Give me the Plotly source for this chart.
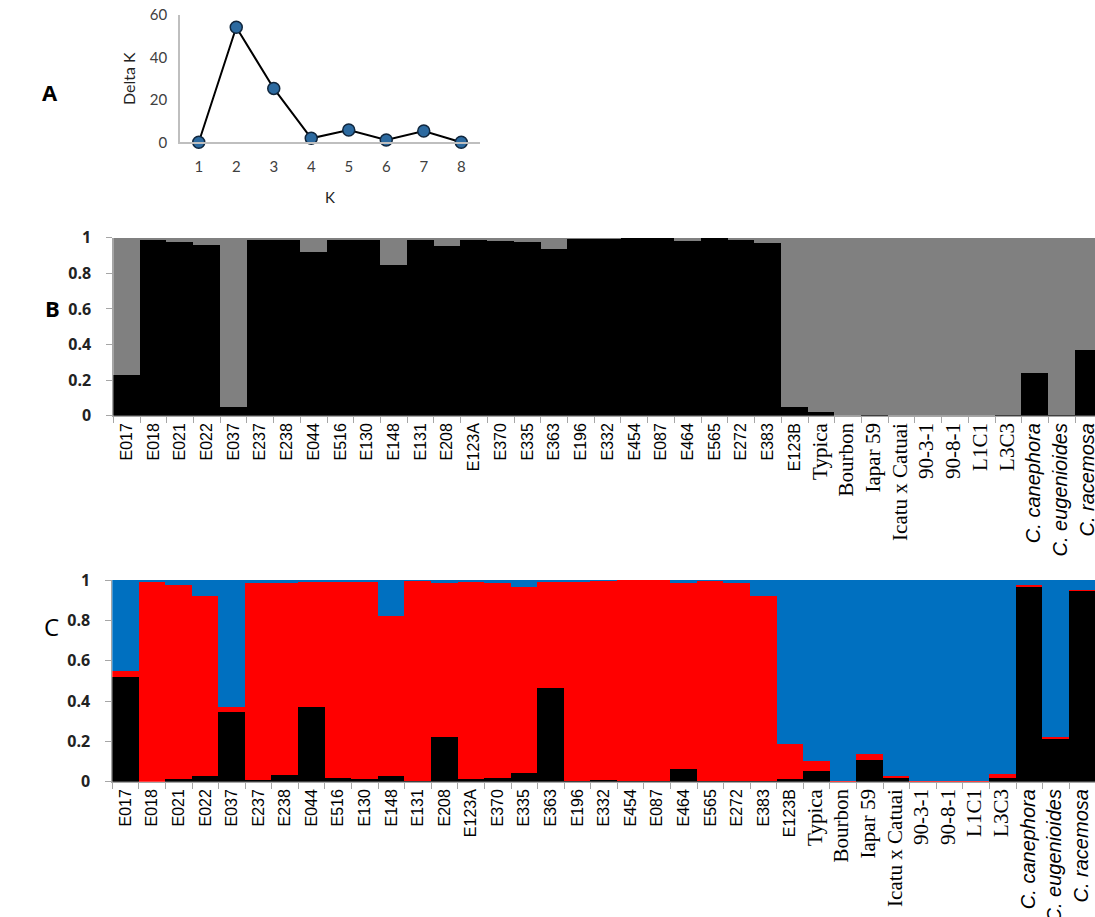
import plotly.graph_objects as go

# ---------------- data ----------------
k_values = [1, 2, 3, 4, 5, 6, 7, 8]
delta_k = [0.0, 54.2, 25.4, 1.9, 5.8, 1.1, 5.3, 0.0]

samples = ["E017", "E018", "E021", "E022", "E037", "E237", "E238", "E044", "E516", "E130",
           "E148", "E131", "E208", "E123A", "E370", "E335", "E363", "E196", "E332", "E454",
           "E087", "E464", "E565", "E272", "E383", "E123B", "Typica", "Bourbon", "Iapar 59",
           "Icatu x Catuai", "90-3-1", "90-8-1", "L1C1", "L3C3", "C. canephora",
           "C. eugenioides", "C. racemosa"]

# K = 2
b_black = [0.23, 0.99, 0.98, 0.96, 0.05, 0.99, 0.99, 0.92, 0.99, 0.99,
           0.85, 0.99, 0.955, 0.99, 0.985, 0.975, 0.94, 0.995, 0.995, 1.0,
           1.0, 0.985, 1.0, 0.99, 0.97, 0.05, 0.025, 0.0, 0.005,
           0.0, 0.0, 0.0, 0.0, 0.005, 0.24, 0.005, 0.37]
b_grey = [0.77, 0.01, 0.02, 0.04, 0.95, 0.01, 0.01, 0.08, 0.01, 0.01,
          0.15, 0.01, 0.045, 0.01, 0.015, 0.025, 0.06, 0.005, 0.005, 0.0,
          0.0, 0.015, 0.0, 0.01, 0.03, 0.95, 0.975, 1.0, 0.995,
          1.0, 1.0, 1.0, 1.0, 0.995, 0.76, 0.995, 0.63]

# K = 3
c_black = [0.52, 0.0, 0.012, 0.028, 0.347, 0.008, 0.035, 0.369, 0.017, 0.012,
           0.028, 0.003, 0.223, 0.012, 0.017, 0.045, 0.463, 0.003, 0.008, 0.003,
           0.003, 0.061, 0.003, 0.003, 0.003, 0.012, 0.053, 0.0, 0.107,
           0.017, 0.0, 0.0, 0.0, 0.017, 0.97, 0.212, 0.947]
c_red = [0.03, 0.995, 0.963, 0.892, 0.022, 0.975, 0.952, 0.619, 0.978, 0.983,
         0.795, 0.994, 0.764, 0.983, 0.966, 0.919, 0.532, 0.992, 0.989, 0.997,
         0.997, 0.926, 0.994, 0.984, 0.917, 0.175, 0.051, 0.005, 0.03,
         0.011, 0.005, 0.005, 0.005, 0.021, 0.003, 0.011, 0.003]
c_blue = [0.45, 0.005, 0.025, 0.08, 0.631, 0.017, 0.013, 0.012, 0.005, 0.005,
          0.177, 0.003, 0.013, 0.005, 0.017, 0.036, 0.005, 0.005, 0.003, 0.0,
          0.0, 0.013, 0.003, 0.013, 0.08, 0.813, 0.896, 0.995, 0.863,
          0.972, 0.995, 0.995, 0.995, 0.962, 0.027, 0.777, 0.05]

y_ticks = [0, 0.2, 0.4, 0.6, 0.8, 1]
y_ticktext = ["0", "0.2", "0.4", "0.6", "0.8", "1"]

serif_names = {"Typica", "Bourbon", "Iapar 59", "Icatu x Catuai", "90-3-1", "90-8-1", "L1C1", "L3C3"}
italic_names = {"C. canephora", "C. eugenioides", "C. racemosa"}


def fmt_label(s):
    if s in serif_names:
        return '<span style="font-family:Liberation Serif;font-size:21px">' + s + '</span>'
    if s in italic_names:
        return '<span style="font-size:20px"><i>' + s + '</i></span>'
    return s


labels = [fmt_label(s) for s in samples]

W, H = 1095, 917
fig = go.Figure()

# Panel A
fig.add_trace(go.Scatter(
    x=k_values, y=delta_k, mode="lines+markers",
    line=dict(color="black", width=2),
    marker=dict(size=12, color="#2C6AA0", line=dict(color="#10263d", width=1.5)),
    xaxis="x", yaxis="y", showlegend=False, cliponaxis=False))

# Panel B
fig.add_trace(go.Bar(x=labels, y=b_black, marker=dict(color="black", line=dict(width=0)),
                     xaxis="x2", yaxis="y2", showlegend=False))
fig.add_trace(go.Bar(x=labels, y=b_grey, marker=dict(color="#808080", line=dict(width=0)),
                     xaxis="x2", yaxis="y2", showlegend=False))

# Panel C
fig.add_trace(go.Bar(x=labels, y=c_black, marker=dict(color="black", line=dict(width=0)),
                     xaxis="x3", yaxis="y3", showlegend=False))
fig.add_trace(go.Bar(x=labels, y=c_red, marker=dict(color="#FF0000", line=dict(width=0)),
                     xaxis="x3", yaxis="y3", showlegend=False))
fig.add_trace(go.Bar(x=labels, y=c_blue, marker=dict(color="#0070C0", line=dict(width=0)),
                     xaxis="x3", yaxis="y3", showlegend=False))

axis_grey = "#A6A6A6"
bar_tickfont = dict(family="Liberation Sans", size=16, color="black")
ytickfont = dict(family="Open Sans", size=16, color="#222222", weight="bold")

fig.update_layout(
    width=W, height=H,
    margin=dict(l=0, r=0, t=0, b=0, pad=0, autoexpand=False),
    paper_bgcolor="white", plot_bgcolor="white",
    barmode="stack", bargap=0,
    font=dict(family="Liberation Sans", color="black"),
    # Panel A axes
    xaxis=dict(domain=[180 / W, 480 / W], anchor="y", range=[0.5, 8.5],
               tickvals=k_values, ticktext=[str(k) for k in k_values],
               showline=True, linecolor="#BFBFBF", linewidth=1.5,
               ticks="", showgrid=False, zeroline=False, automargin=False,
               ticklabelstandoff=10,
               tickfont=dict(family="Lato", size=15, color="#404040"),
               title=dict(text="K", font=dict(family="Lato", size=15, color="#222222"), standoff=18)),
    yaxis=dict(domain=[1 - 142.3 / H, 1 - 15 / H], anchor="x", range=[0, 60],
               tickvals=[0, 20, 40, 60], showline=True, linecolor="#BFBFBF", linewidth=1.5,
               ticks="", showgrid=False, zeroline=False, ticklabelstandoff=8, automargin=False,
               tickfont=dict(family="Lato", size=15, color="#404040"),
               title=dict(text="Delta K", font=dict(family="Lato", size=16, color="#222222"), standoff=10)),
    # Panel B axes
    xaxis2=dict(domain=[113.3 / W, 1], anchor="y2", type="category", automargin=False,
                range=[-0.5, (W - 113.3) / 26.72 - 0.5],
                tickson="boundaries", ticks="outside", ticklen=6, tickcolor=axis_grey,
                showline=True, linecolor=axis_grey, linewidth=1,
                tickangle=-90, tickfont=bar_tickfont, showgrid=False),
    yaxis2=dict(domain=[1 - 415.7 / H, 1 - 237.7 / H], anchor="x2", range=[0, 1], automargin=False,
                tickvals=y_ticks, ticktext=y_ticktext, ticks="outside", ticklen=6,
                tickcolor=axis_grey, showline=True, linecolor=axis_grey, linewidth=1,
                showgrid=False, zeroline=False, ticklabelstandoff=12, tickfont=ytickfont),
    # Panel C axes
    xaxis3=dict(domain=[112.3 / W, 1], anchor="y3", type="category", automargin=False,
                range=[-0.5, (W - 112.3) / 26.58 - 0.5],
                tickson="boundaries", ticks="outside", ticklen=6, tickcolor=axis_grey,
                showline=True, linecolor=axis_grey, linewidth=1,
                tickangle=-90, tickfont=bar_tickfont, showgrid=False),
    yaxis3=dict(domain=[1 - 781.7 / H, 1 - 580 / H], anchor="x3", range=[0, 1], automargin=False,
                tickvals=y_ticks, ticktext=y_ticktext, ticks="outside", ticklen=6,
                tickcolor=axis_grey, showline=True, linecolor=axis_grey, linewidth=1,
                showgrid=False, zeroline=False, ticklabelstandoff=12, tickfont=ytickfont),
    annotations=[
        dict(text="<b>A</b>", x=40 / W, y=1 - 75 / H, xref="paper", yref="paper",
             showarrow=False, font=dict(family="Open Sans", size=22, color="black")),
        dict(text="<b>B</b>", x=43 / W, y=1 - 308 / H, xref="paper", yref="paper",
             showarrow=False, font=dict(family="Open Sans", size=22, color="black")),
        dict(text="C", x=42 / W, y=1 - 645 / H, xref="paper", yref="paper",
             showarrow=False, font=dict(family="Open Sans", size=24, color="black")),
    ],
)

fig.write_html("out.html")
